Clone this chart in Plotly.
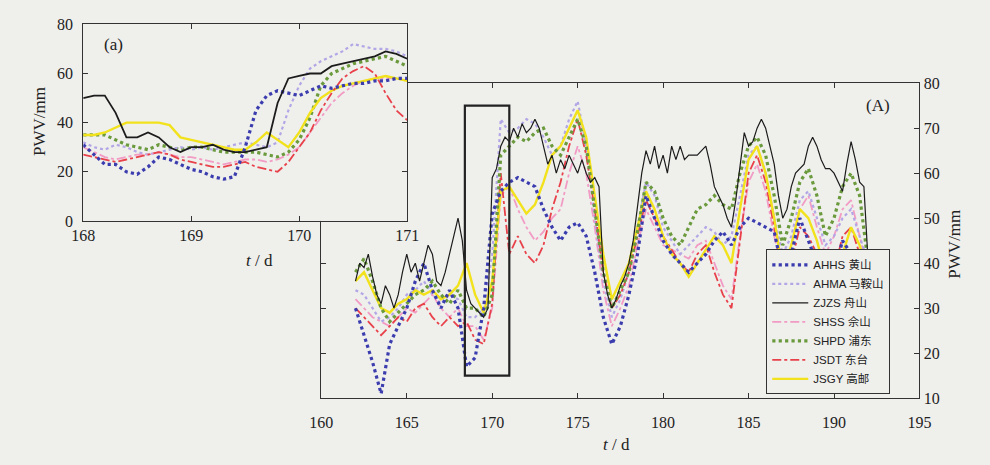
import numpy as np
import plotly.graph_objects as go

W, H = 990, 465
def px(x): return x / W
def py(y): return 1 - y / H

# ---------------- data ----------------
days_main = np.arange(162.0, 192.01, 0.5)      # 0.5-day sampling grid
days_zjzs = np.arange(162.0, 192.01, 0.25)     # 0.25-day sampling grid
days_inset = np.round(np.arange(168.0, 171.01, 0.1), 1)

ahhs = [30, 24, 18, 11, 22, 26, 30, 36, 40, 34,
        30, 34, 30, 17, 19, 30, 51, 56, 58, 59,
        58, 57, 52, 48, 45, 48, 49, 46, 38, 28,
        22, 26, 33, 42, 55, 50, 45, 42, 40, 38,
        40, 42, 45, 47, 44, 48, 50, 49, 48, 47,
        38, 42, 50, 45, 40, 35, 38, 45, 42, 38,
        35]
ahma = [34, 33, 30, 27, 28, 30, 33, 34, 36, 33,
        31, 33, 32, 28, 28, 30, 42, 72, 69, 70,
        72, 71, 68, 64, 66, 72, 76, 66, 50, 36,
        28, 32, 38, 48, 58, 55, 48, 45, 42, 44,
        46, 48, 47, 44, 46, 55, 64, 66, 60, 50,
        42, 46, 54, 56, 50, 44, 46, 50, 52, 46,
        40]
zjzs = [36, 40, 39, 42, 37, 33, 31, 35,
        33, 30, 33, 38, 42, 38, 40, 36,
        40, 44, 42, 36, 35, 38, 42, 46,
        50, 45, 34, 31, 30, 29, 28, 30,
        59, 61, 66, 68, 67, 70, 68, 71,
        69, 70, 72, 70, 66, 62, 64, 60,
        63, 61, 64, 62, 60, 63, 60, 58,
        59, 57, 38, 33, 30, 32, 35, 37,
        40, 45, 52, 60, 65, 62, 66, 61,
        64, 60, 66, 63, 66, 63, 64, 64,
        64, 65, 66, 62, 57, 55, 53, 50,
        48, 54, 62, 69, 66, 67, 70, 72,
        70, 66, 62, 55, 50, 52, 57, 60,
        61, 62, 66, 68, 66, 63, 61, 61,
        60, 58, 56, 62, 67, 63, 58, 57,
        40]
shss = [32, 30, 28, 27, 26, 28, 30, 29, 31, 33,
        30, 28, 30, 26, 26, 23, 30, 55, 57, 52,
        48, 45, 47, 50, 52, 60, 66, 60, 48, 34,
        26, 30, 35, 44, 52, 48, 44, 43, 42, 41,
        44, 45, 40, 35, 32, 46, 58, 62, 56, 46,
        38, 44, 52, 55, 48, 42, 46, 52, 54, 46,
        38]
shpd = [38, 41, 36, 30, 27, 29, 31, 33, 34, 36,
        33, 31, 34, 30, 30, 28, 33, 64, 66, 68,
        67, 69, 70, 66, 64, 68, 72, 66, 52, 38,
        30, 34, 38, 47, 58, 56, 50, 46, 44, 48,
        52, 53, 55, 53, 52, 60, 66, 68, 64, 55,
        44, 50, 58, 61, 55, 46, 50, 57, 60, 55,
        40]
jsdt = [30, 28, 26, 24, 26, 28, 27, 30, 31, 28,
        26, 28, 26, 27, 23, 22, 31, 60, 42, 46,
        42, 40, 44, 52, 58, 66, 72, 64, 52, 38,
        30, 33, 38, 46, 54, 50, 46, 43, 40, 38,
        42, 44, 38, 33, 30, 45, 60, 64, 58, 48,
        37, 40, 48, 46, 42, 36, 38, 46, 48, 42,
        36]
jsgy = [36, 38, 34, 30, 29, 31, 32, 34, 33, 34,
        32, 33, 35, 40, 33, 29, 36, 56, 57, 54,
        51, 53, 58, 64, 66, 70, 74, 68, 55, 42,
        32, 36, 40, 48, 56, 52, 46, 42, 40, 37,
        40, 43, 46, 44, 40, 52, 63, 66, 60, 50,
        38, 44, 52, 50, 45, 38, 36, 42, 48, 44,
        38]

# inset (a): 168-171 d at 0.1-day steps
ahhs_in = [31, 27, 23, 23, 20, 19, 22, 26, 25, 23,
           21, 20, 18, 17, 18, 30, 45, 51, 53, 52,
           51, 53, 55, 54, 55, 56, 56, 57, 57, 58, 58]
ahma_in = [32, 30, 29, 31, 30, 28, 27, 28, 29, 30,
           29, 30, 29, 30, 31, 32, 31, 30, 32, 45,
           55, 62, 65, 67, 69, 72, 71, 70, 70, 69, 67]
zjzs_in = [50, 51, 51, 44, 34, 34, 36, 34, 30, 28,
           30, 30, 31, 29, 28, 28, 29, 30, 48, 58,
           59, 60, 60, 63, 64, 65, 66, 67, 69, 68, 66]
shss_in = [30, 28, 26, 25, 26, 27, 27, 28, 27, 26,
           26, 25, 24, 23, 24, 25, 25, 24, 25, 27,
           30, 36, 42, 48, 52, 55, 57, 58, 58, 58, 57]
shpd_in = [35, 35, 35, 33, 31, 30, 29, 31, 30, 29,
           30, 30, 29, 28, 28, 28, 28, 27, 26, 28,
           33, 42, 55, 60, 62, 64, 65, 66, 67, 65, 63]
jsdt_in = [27, 26, 25, 24, 25, 26, 27, 28, 27, 25,
           24, 23, 22, 22, 23, 24, 22, 21, 20, 24,
           30, 36, 45, 52, 58, 61, 63, 60, 52, 45, 41]
jsgy_in = [35, 35, 36, 38, 40, 40, 40, 40, 39, 34,
           33, 32, 31, 30, 29, 29, 32, 36, 33, 30,
           36, 44, 50, 53, 55, 56, 57, 58, 59, 58, 57]

names = ["AHHS 黄山", "AHMA 马鞍山", "ZJZS 舟山", "SHSS 佘山",
         "SHPD 浦东", "JSDT 东台", "JSGY 高邮"]
main_x_ticks = [160, 165, 170, 175, 180, 185, 190, 195]
main_y_ticks = [10, 20, 30, 40, 50, 60, 70, 80]
inset_x_ticks = [168, 169, 170, 171]
inset_y_ticks = [0, 20, 40, 60, 80]

# ---------------- styles ----------------
styles = {
    "AHHS 黄山": dict(color="#3b3daf", width=3.2, dash="dot"),
    "AHMA 马鞍山": dict(color="#b3a6e6", width=2.2, dash="dot"),
    "ZJZS 舟山": dict(color="#1c1c1c", width=1.2, dash="solid"),
    "SHSS 佘山": dict(color="#f29bc4", width=1.8, dash="dashdot"),
    "SHPD 浦东": dict(color="#6a9a3c", width=3.2, dash="dot"),
    "JSDT 东台": dict(color="#e8414a", width=1.8, dash="dashdot"),
    "JSGY 高邮": dict(color="#f2e21c", width=2.4, dash="solid"),
}
main_data = {
    "AHHS 黄山": (days_main, ahhs), "AHMA 马鞍山": (days_main, ahma),
    "ZJZS 舟山": (days_zjzs, zjzs), "SHSS 佘山": (days_main, shss),
    "SHPD 浦东": (days_main, shpd), "JSDT 东台": (days_main, jsdt),
    "JSGY 高邮": (days_main, jsgy),
}
inset_data = {
    "AHHS 黄山": ahhs_in, "AHMA 马鞍山": ahma_in, "ZJZS 舟山": zjzs_in,
    "SHSS 佘山": shss_in, "SHPD 浦东": shpd_in, "JSDT 东台": jsdt_in,
    "JSGY 高邮": jsgy_in,
}
draw_order = ["SHSS 佘山", "AHMA 马鞍山", "JSDT 东台", "JSGY 高邮",
              "SHPD 浦东", "AHHS 黄山", "ZJZS 舟山"]

fig = go.Figure()
for nm in draw_order:
    x, y = main_data[nm]
    fig.add_trace(go.Scatter(x=x, y=y, mode="lines", name=nm,
                             line=styles[nm], legendrank=names.index(nm) + 1,
                             xaxis="x", yaxis="y"))
inset_order = ["SHPD 浦东", "AHMA 马鞍山", "SHSS 佘山", "JSGY 高邮",
               "JSDT 东台", "AHHS 黄山", "ZJZS 舟山"]
for nm in inset_order:
    st = dict(styles[nm])
    if nm == "ZJZS 舟山":
        st["width"] = 1.8
    fig.add_trace(go.Scatter(x=days_inset, y=inset_data[nm], mode="lines",
                             line=st, showlegend=False,
                             xaxis="x2", yaxis="y2"))

BG = "#efefec"
serif = "Liberation Serif, Times New Roman, serif"
axcommon = dict(showline=True, linecolor="#333", linewidth=1.2, ticks="inside",
                ticklen=5, tickcolor="#333", mirror="ticks", showgrid=False,
                zeroline=False, tickfont=dict(family=serif, size=16, color="#222"))

fig.update_layout(
    width=W, height=H, margin=dict(l=0, r=0, t=0, b=0),
    paper_bgcolor=BG, plot_bgcolor=BG,
    xaxis=dict(domain=[px(317), px(930)], range=[160, 195],
               tickvals=main_x_ticks, anchor="y", ticklabelstandoff=10,
               **axcommon),
    yaxis=dict(domain=[py(405), py(78)], range=[10, 80], side="right",
               tickvals=main_y_ticks, anchor="x", **axcommon),
    xaxis2=dict(domain=[px(73), px(405)], range=[168, 171],
                tickvals=inset_x_ticks, anchor="y2", **axcommon),
    yaxis2=dict(domain=[py(221), py(17)], range=[0, 80],
                tickvals=inset_y_ticks, anchor="x2", ticklabelstandoff=6,
                **axcommon),
    legend=dict(x=px(773), y=py(401), xanchor="left", yanchor="bottom",
                bgcolor=BG, bordercolor="#333", borderwidth=1,
                font=dict(family="Liberation Sans, Noto Sans CJK SC", size=11.5,
                          color="#222"),
                tracegroupgap=0, itemwidth=36),
    showlegend=True,
)

# highlighted window in main panel (the zoomed period)
fig.add_shape(type="rect", xref="x", yref="y", x0=168.4, x1=171.0, y0=15, y1=75,
              line=dict(color="#222", width=2.2), fillcolor="rgba(0,0,0,0)")

ann_font = dict(family=serif, size=17, color="#222")
def label(x, y, text, angle=0):
    fig.add_annotation(x=px(x), y=py(y), xref="paper", yref="paper", text=text,
                       textangle=angle, showarrow=False, font=ann_font,
                       xanchor="center", yanchor="middle")

label(104, 38, "(a)")
label(888, 101, "(A)")
label(254, 262, "<i>t</i> / d")
label(620, 453, "<i>t</i> / d")
label(28, 118, "PWV/mm", -90)
label(965, 245, "PWV/mm", -90)

fig.write_html(
    "out.html",
    config={"displayModeBar": False},
    post_script=("document.body.style.margin='0';"
                 "document.body.style.overflow='hidden';"
                 "document.body.style.background='#efefec';"),
)
